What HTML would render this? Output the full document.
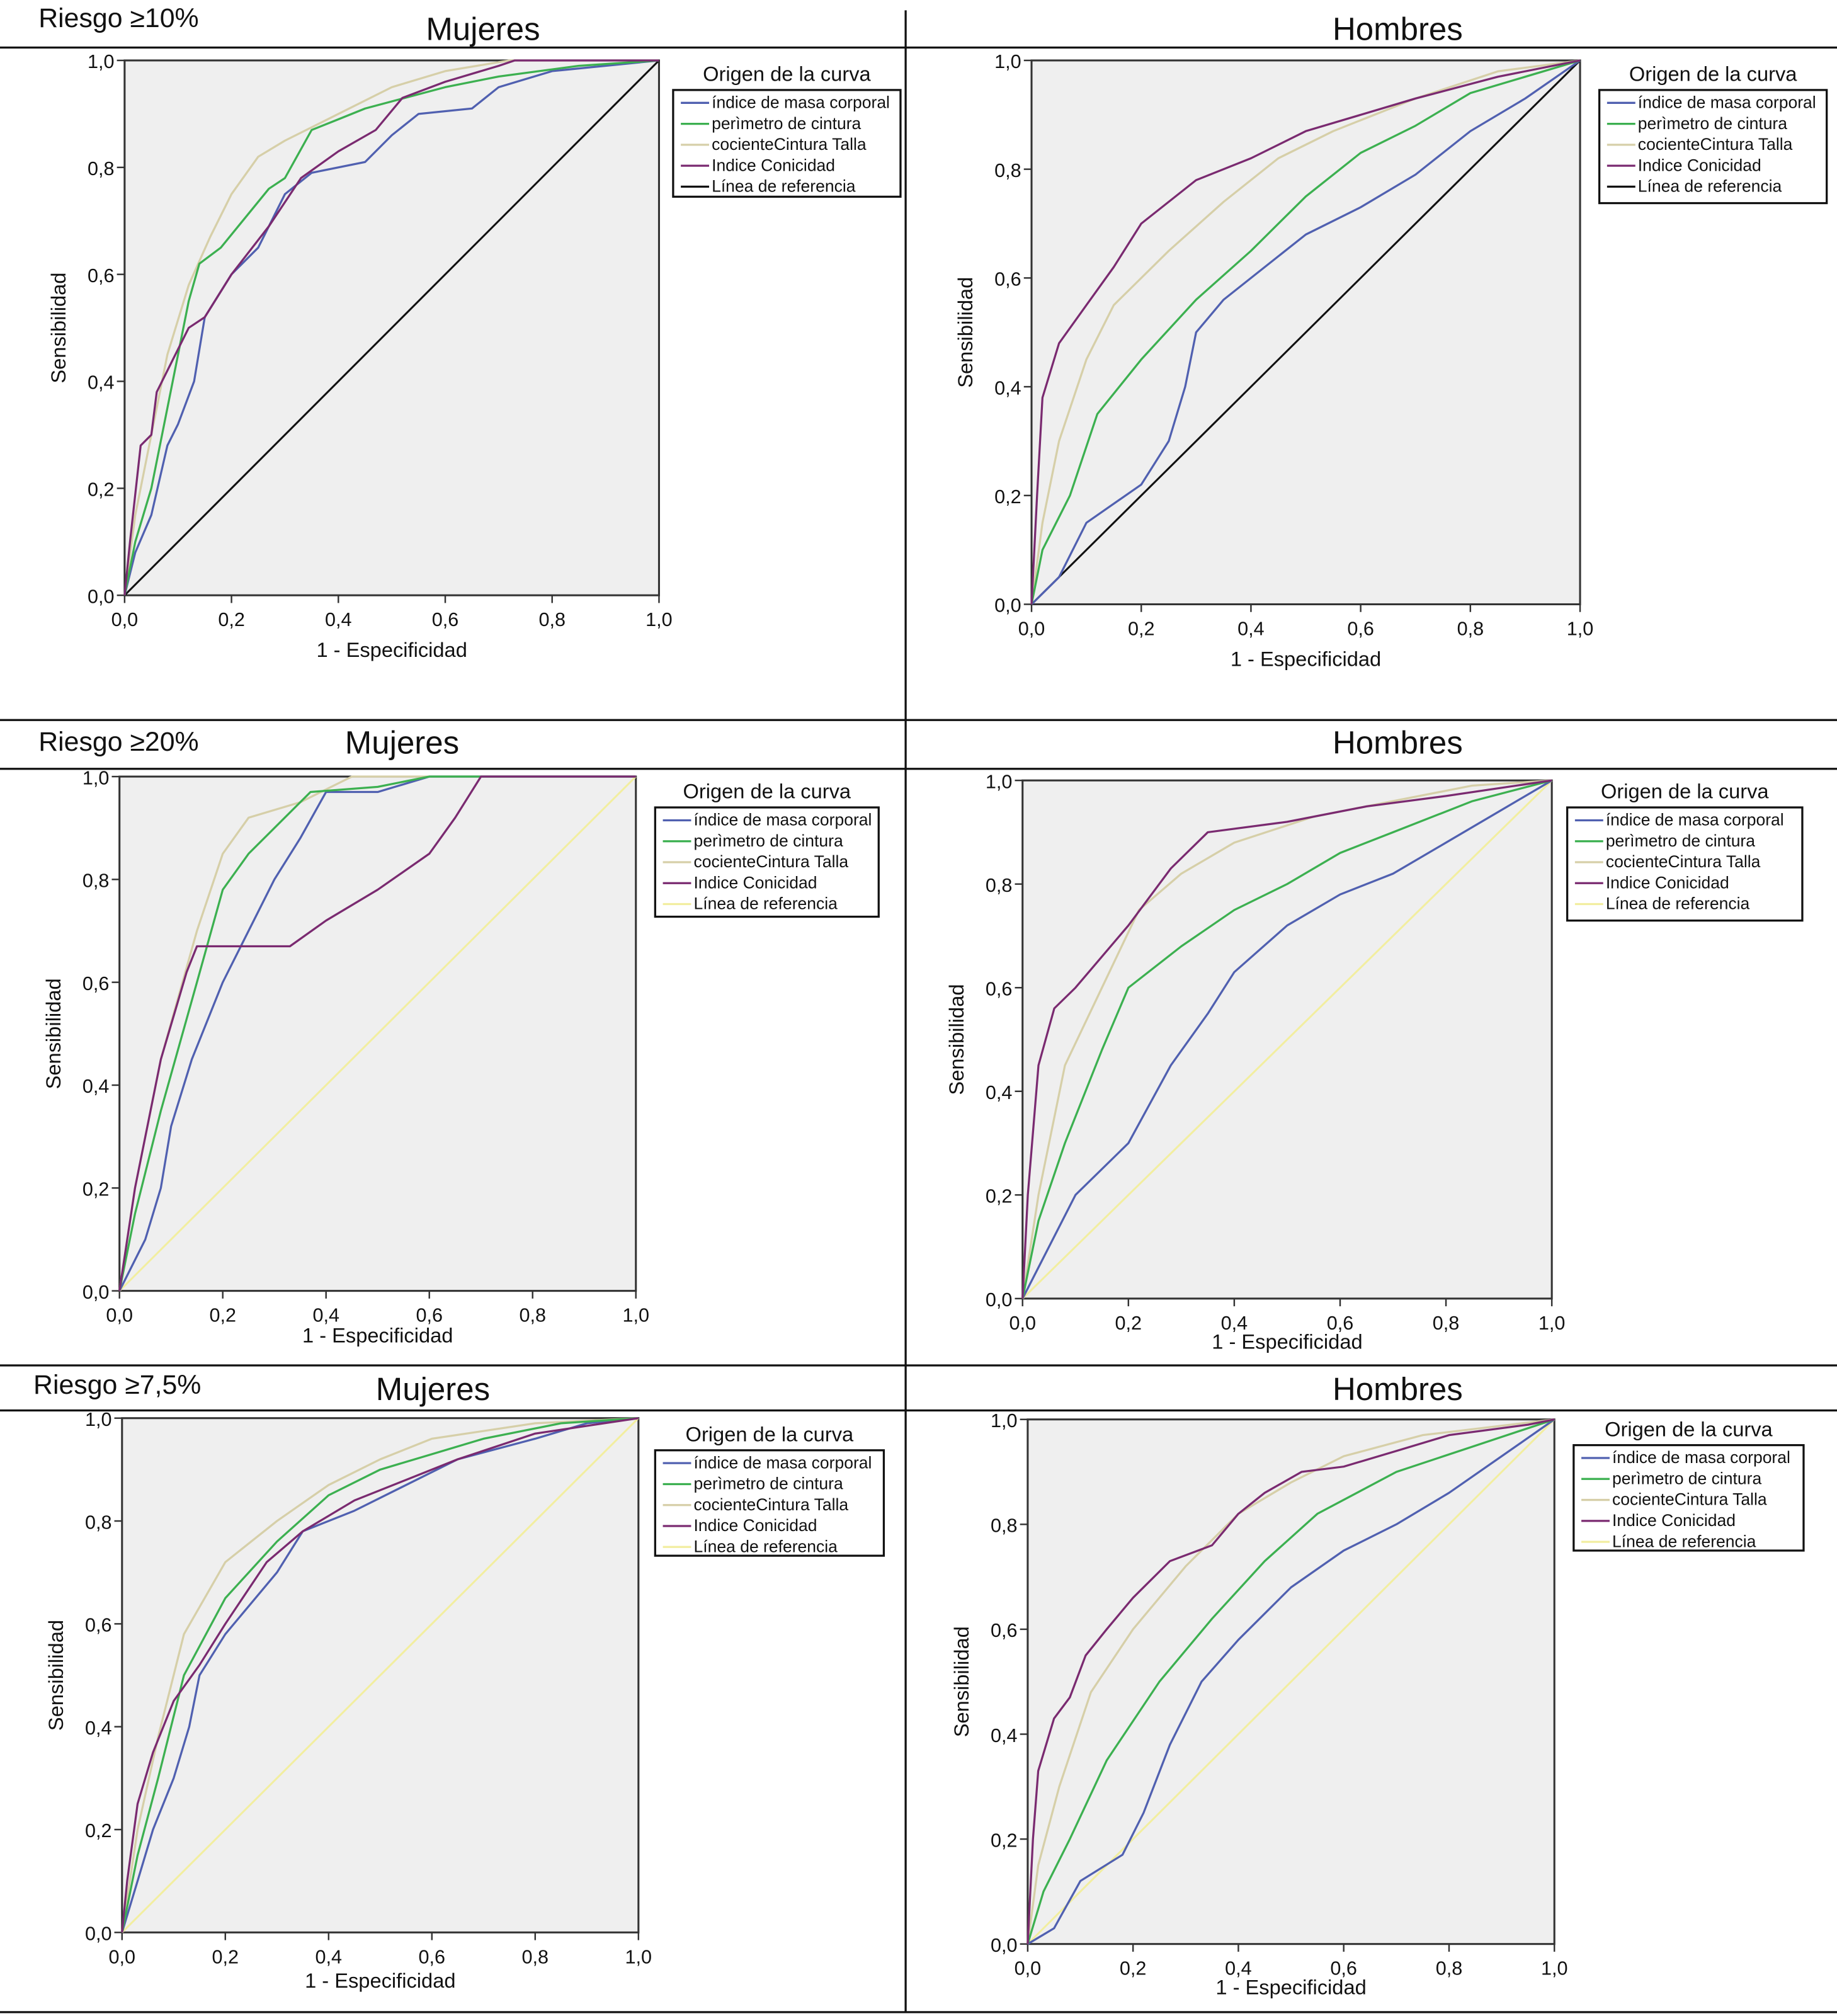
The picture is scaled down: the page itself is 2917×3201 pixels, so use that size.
<!DOCTYPE html>
<html><head><meta charset="utf-8"><style>
html,body{margin:0;padding:0;background:#fff;}
svg{display:block;}
text{font-family:"Liberation Sans",sans-serif;fill:#111;}
</style></head>
<body>
<svg id="fig" xmlns="http://www.w3.org/2000/svg" width="2917" height="3201" viewBox="0 0 1430 1568" preserveAspectRatio="none">
<g stroke="#111" stroke-width="1.6">
<line x1="0" y1="37" x2="1430" y2="37"/><line x1="0" y1="560" x2="1430" y2="560"/>
<line x1="0" y1="598" x2="1430" y2="598"/><line x1="0" y1="1062" x2="1430" y2="1062"/>
<line x1="0" y1="1097" x2="1430" y2="1097"/><line x1="0" y1="1565" x2="1430" y2="1565"/>
<line x1="705" y1="8" x2="705" y2="1565"/>
</g>
<text x="30" y="21" font-size="21">Riesgo ≥10%</text>
<text x="30" y="584" font-size="21">Riesgo ≥20%</text>
<text x="26" y="1084" font-size="21">Riesgo ≥7,5%</text>
</svg>
<script>
const ticks=[0,0.2,0.4,0.6,0.8,1.0];
const tickLabels=["0,0","0,2","0,4","0,6","0,8","1,0"];
const seriesNames=["índice de masa corporal","perìmetro de cintura","cocienteCintura Talla","Indice Conicidad","Línea de referencia"];
const seriesColors=["#5060b0","#3cb050","#d6cfa8","#7a2a70"];

const A_bmi=[[0,0],[0.02,0.08],[0.05,0.15],[0.08,0.28],[0.1,0.32],[0.13,0.4],[0.15,0.52],[0.2,0.6],[0.25,0.65],[0.3,0.75],[0.35,0.79],[0.45,0.81],[0.5,0.86],[0.55,0.9],[0.65,0.91],[0.7,0.95],[0.8,0.98],[0.9,0.99],[1,1]];
const A_wc=[[0,0],[0.02,0.1],[0.05,0.2],[0.08,0.35],[0.12,0.55],[0.14,0.62],[0.18,0.65],[0.27,0.76],[0.3,0.78],[0.35,0.87],[0.4,0.89],[0.45,0.91],[0.6,0.95],[0.7,0.97],[0.85,0.99],[1,1]];
const A_whtr=[[0,0],[0.02,0.15],[0.05,0.3],[0.08,0.45],[0.12,0.58],[0.16,0.67],[0.2,0.75],[0.25,0.82],[0.3,0.85],[0.4,0.9],[0.5,0.95],[0.6,0.98],[0.72,1],[1,1]];
const A_ci=[[0,0],[0.01,0.1],[0.03,0.28],[0.05,0.3],[0.06,0.38],[0.09,0.44],[0.12,0.5],[0.15,0.52],[0.2,0.6],[0.27,0.69],[0.33,0.78],[0.4,0.83],[0.47,0.87],[0.52,0.93],[0.6,0.96],[0.7,0.99],[0.73,1],[1,1]];

const B_bmi=[[0,0],[0.05,0.05],[0.1,0.15],[0.2,0.22],[0.25,0.3],[0.28,0.4],[0.3,0.5],[0.35,0.56],[0.4,0.6],[0.5,0.68],[0.6,0.73],[0.7,0.79],[0.8,0.87],[0.9,0.93],[1,1]];
const B_wc=[[0,0],[0.02,0.1],[0.07,0.2],[0.12,0.35],[0.2,0.45],[0.3,0.56],[0.4,0.65],[0.5,0.75],[0.6,0.83],[0.7,0.88],[0.8,0.94],[0.9,0.97],[1,1]];
const B_whtr=[[0,0],[0.02,0.15],[0.05,0.3],[0.1,0.45],[0.15,0.55],[0.25,0.65],[0.35,0.74],[0.45,0.82],[0.55,0.87],[0.7,0.93],[0.85,0.98],[1,1]];
const B_ci=[[0,0],[0.01,0.2],[0.02,0.38],[0.05,0.48],[0.1,0.55],[0.15,0.62],[0.2,0.7],[0.3,0.78],[0.4,0.82],[0.5,0.87],[0.6,0.9],[0.7,0.93],[0.85,0.97],[1,1]];

const C_bmi=[[0,0],[0.05,0.1],[0.08,0.2],[0.1,0.32],[0.14,0.45],[0.2,0.6],[0.25,0.7],[0.3,0.8],[0.35,0.88],[0.4,0.97],[0.5,0.97],[0.6,1],[1,1]];
const C_wc=[[0,0],[0.03,0.15],[0.08,0.35],[0.15,0.6],[0.2,0.78],[0.25,0.85],[0.3,0.9],[0.37,0.97],[0.5,0.98],[0.6,1],[1,1]];
const C_whtr=[[0,0],[0.03,0.2],[0.08,0.45],[0.15,0.7],[0.2,0.85],[0.25,0.92],[0.35,0.95],[0.45,1],[1,1]];
const C_ci=[[0,0],[0.03,0.2],[0.08,0.45],[0.13,0.62],[0.15,0.67],[0.33,0.67],[0.4,0.72],[0.5,0.78],[0.6,0.85],[0.65,0.92],[0.7,1],[1,1]];

const D_bmi=[[0,0],[0.05,0.1],[0.1,0.2],[0.2,0.3],[0.28,0.45],[0.35,0.55],[0.4,0.63],[0.5,0.72],[0.6,0.78],[0.7,0.82],[0.8,0.88],[0.9,0.94],[1,1]];
const D_wc=[[0,0],[0.03,0.15],[0.08,0.3],[0.15,0.48],[0.2,0.6],[0.3,0.68],[0.4,0.75],[0.5,0.8],[0.6,0.86],[0.7,0.9],[0.85,0.96],[1,1]];
const D_whtr=[[0,0],[0.03,0.2],[0.08,0.45],[0.15,0.6],[0.22,0.75],[0.3,0.82],[0.4,0.88],[0.55,0.93],[0.7,0.96],[0.85,0.99],[1,1]];
const D_ci=[[0,0],[0.01,0.2],[0.03,0.45],[0.06,0.56],[0.1,0.6],[0.2,0.72],[0.28,0.83],[0.35,0.9],[0.5,0.92],[0.65,0.95],[0.8,0.97],[1,1]];

const E_bmi=[[0,0],[0.03,0.1],[0.06,0.2],[0.1,0.3],[0.13,0.4],[0.15,0.5],[0.2,0.58],[0.3,0.7],[0.35,0.78],[0.45,0.82],[0.55,0.87],[0.65,0.92],[0.8,0.96],[0.9,0.99],[1,1]];
const E_wc=[[0,0],[0.03,0.15],[0.07,0.3],[0.12,0.5],[0.2,0.65],[0.3,0.76],[0.4,0.85],[0.5,0.9],[0.6,0.93],[0.7,0.96],[0.85,0.99],[1,1]];
const E_whtr=[[0,0],[0.03,0.2],[0.07,0.38],[0.12,0.58],[0.2,0.72],[0.3,0.8],[0.4,0.87],[0.5,0.92],[0.6,0.96],[0.8,0.99],[1,1]];
const E_ci=[[0,0],[0.01,0.1],[0.03,0.25],[0.06,0.35],[0.1,0.45],[0.15,0.52],[0.2,0.6],[0.28,0.72],[0.35,0.78],[0.45,0.84],[0.55,0.88],[0.65,0.92],[0.8,0.97],[1,1]];

const F_bmi=[[0,0],[0.05,0.03],[0.1,0.12],[0.18,0.17],[0.22,0.25],[0.27,0.38],[0.33,0.5],[0.4,0.58],[0.5,0.68],[0.6,0.75],[0.7,0.8],[0.8,0.86],[0.9,0.93],[1,1]];
const F_wc=[[0,0],[0.03,0.1],[0.08,0.2],[0.15,0.35],[0.25,0.5],[0.35,0.62],[0.45,0.73],[0.55,0.82],[0.7,0.9],[0.85,0.95],[1,1]];
const F_whtr=[[0,0],[0.02,0.15],[0.06,0.3],[0.12,0.48],[0.2,0.6],[0.3,0.72],[0.4,0.82],[0.5,0.88],[0.6,0.93],[0.75,0.97],[1,1]];
const F_ci=[[0,0],[0.01,0.2],[0.02,0.33],[0.05,0.43],[0.08,0.47],[0.11,0.55],[0.15,0.6],[0.2,0.66],[0.27,0.73],[0.35,0.76],[0.4,0.82],[0.45,0.86],[0.52,0.9],[0.6,0.91],[0.7,0.94],[0.8,0.97],[0.95,0.99],[1,1]];

const panels=[
 {id:"mujeres-10",series:[A_bmi,A_wc,A_whtr,A_ci],x0:97,x1:513,y0:463,y1:47,ref:"#111",title:"Mujeres",tx:376,ty:31,lg:[524,70,177,83],xt:511},
 {id:"hombres-10",series:[B_bmi,B_wc,B_whtr,B_ci],x0:803,x1:1230,y0:470,y1:47,ref:"#111",title:"Hombres",tx:1088,ty:31,lg:[1245,70,177,88],xt:518},
 {id:"mujeres-20",series:[C_bmi,C_wc,C_whtr,C_ci],x0:93,x1:495,y0:1004,y1:604,ref:"#f2eea0",title:"Mujeres",tx:313,ty:586,lg:[510,628,174,85],xt:1044},
 {id:"hombres-20",series:[D_bmi,D_wc,D_whtr,D_ci],x0:796,x1:1208,y0:1010,y1:607,ref:"#f2eea0",title:"Hombres",tx:1088,ty:586,lg:[1220,628,183,88],xt:1049},
 {id:"mujeres-75",series:[E_bmi,E_wc,E_whtr,E_ci],x0:95,x1:497,y0:1503,y1:1103,ref:"#f2eea0",title:"Mujeres",tx:337,ty:1089,lg:[510,1128,178,82],xt:1546},
 {id:"hombres-75",series:[F_bmi,F_wc,F_whtr,F_ci],x0:800,x1:1210,y0:1512,y1:1104,ref:"#f2eea0",title:"Hombres",tx:1088,ty:1089,lg:[1225,1124,179,82],xt:1551}
];
const NS="http://www.w3.org/2000/svg";
const svg=document.getElementById('fig');
function mk(tag,attrs,parent){const e=document.createElementNS(NS,tag);for(const k in attrs)e.setAttribute(k,attrs[k]);parent.appendChild(e);return e;}
panels.forEach(p=>{
 const g=mk('g',{},svg);
 
 
 const sx=v=>p.x0+(p.x1-p.x0)*v, sy=v=>p.y0+(p.y1-p.y0)*v;
 const t=mk('text',{x:p.tx,y:p.ty,'font-size':25,'text-anchor':'middle'},g);t.textContent=p.title;
 
 
 const bg=mk('rect',{x:p.x0,y:p.y1,width:p.x1-p.x0,height:p.y0-p.y1,fill:'#efefef',stroke:'#333','stroke-width':1.5},g);
 
 
 ticks.forEach((v,i)=>{
  mk('line',{x1:sx(v),y1:p.y0,x2:sx(v),y2:p.y0+6,stroke:'#333','stroke-width':1.2},g);
  mk('line',{x1:p.x0-6,y1:sy(v),x2:p.x0,y2:sy(v),stroke:'#333','stroke-width':1.2},g);
  const xl=mk('text',{x:sx(v),y:p.y0+24,'font-size':15,'text-anchor':'middle'},g);xl.textContent=tickLabels[i];
  
  
  const yl=mk('text',{x:p.x0-8,y:sy(v)+6,'font-size':15,'text-anchor':'end'},g);yl.textContent=tickLabels[i];
  
  
 });
 const xa=mk('text',{x:(p.x0+p.x1)/2,y:p.xt,'font-size':16,'text-anchor':'middle'},g);xa.textContent='1 - Especificidad';
 
 
 const cy=(p.y0+p.y1)/2, cx=p.x0-46;
 const ya=mk('text',{x:cx,y:cy,'font-size':16,'text-anchor':'middle',transform:`rotate(-90 ${cx} ${cy})`},g);ya.textContent='Sensibilidad';
 
 
 const rl=mk('line',{x1:sx(0),y1:sy(0),x2:sx(1),y2:sy(1),stroke:p.ref,'stroke-width':1.5},g);
 
 
 const order=[0,1,2,3];
 [2,0,1,3].forEach(si=>{
  const pts=p.series[si].map(d=>sx(d[0]).toFixed(1)+','+sy(d[1]).toFixed(1)).join(' ');
  const pl=mk('polyline',{points:pts,fill:'none',stroke:seriesColors[si],'stroke-width':1.6,'stroke-linejoin':'round'},g);
  
  
 });
 const [lx,ly,lw,lh]=p.lg;
 const lt=mk('text',{x:lx+lw/2,y:ly-7,'font-size':16,'text-anchor':'middle'},g);lt.textContent='Origen de la curva';
 
 
 const lb=mk('rect',{x:lx,y:ly,width:lw,height:lh,fill:'#fff',stroke:'#111','stroke-width':1.6},g);
 
 
 seriesNames.forEach((n,i)=>{
  const yy=ly+10+i*16.3;
  mk('line',{x1:lx+6,y1:yy,x2:lx+28,y2:yy,stroke:i<4?seriesColors[i]:p.ref,'stroke-width':1.6},g);
  const te=mk('text',{x:lx+30,y:yy+4,'font-size':13},g);te.textContent=n;
  
  
 });
});
</script>
</body></html>
